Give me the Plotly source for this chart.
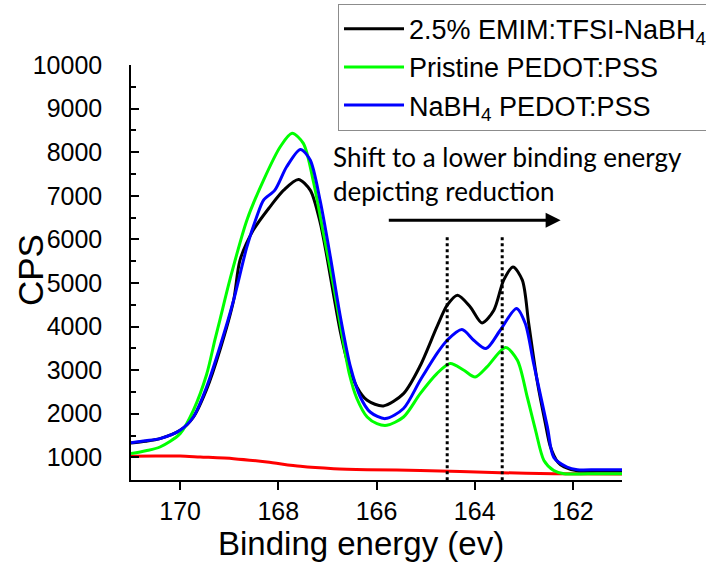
import plotly.graph_objects as go

# ---------------- data ----------------
be_black = [171.00, 170.70, 170.41, 170.00, 169.73, 169.46, 169.19, 168.91, 168.78, 168.51,
            168.17, 167.89, 167.59, 167.35, 167.15, 167.01, 166.87, 166.74, 166.60, 166.40,
            166.19, 165.86, 165.45, 165.11, 164.77, 164.56, 164.35, 164.09, 163.85, 163.61,
            163.41, 163.22, 163.03, 162.90, 162.73, 162.56, 162.46, 162.30, 162.18, 161.91,
            161.50, 161.00]
cps_black = [1330, 1370, 1430, 1620, 1925, 2560, 3456, 4604, 5523, 6212,
             6747, 7130, 7375, 7130, 6400, 5600, 4700, 3900, 3227, 2614,
             2308, 2180, 2462, 3100, 3991, 4490, 4719, 4451, 4084, 4375,
             5064, 5369, 5064, 4069, 2767, 1773, 1250, 880, 778, 690,
             685, 685]

be_green = [171.00, 170.70, 170.41, 170.00, 169.73, 169.46, 169.29, 169.19, 168.98, 168.64,
            168.30, 167.96, 167.72, 167.49, 167.28, 167.08, 166.87, 166.70, 166.55, 166.40,
            166.19, 165.99, 165.79, 165.45, 165.11, 164.77, 164.50, 164.22, 163.99, 163.75,
            163.37, 163.13, 162.93, 162.76, 162.59, 162.39, 162.18, 161.50, 161.00]
cps_green = [1085, 1150, 1237, 1544, 2079, 2900, 3700, 4150, 5100, 6441,
             7360, 8124, 8432, 8202, 7300, 6136, 4910, 3800, 2900, 2350,
             1925, 1773, 1735, 1925, 2462, 2921, 3151, 2997, 2843, 3073,
             3518, 3227, 2384, 1620, 930, 700, 625, 625, 625]

be_blue = [171.00, 170.70, 170.41, 170.00, 169.73, 169.46, 169.19, 168.91, 168.64, 168.44,
           168.30, 168.07, 167.83, 167.55, 167.35, 167.15, 166.94, 166.74, 166.53, 166.33,
           166.13, 165.82, 165.45, 165.11, 164.77, 164.56, 164.26, 164.02, 163.77, 163.48,
           163.15, 162.97, 162.80, 162.52, 162.39, 162.12, 161.91, 161.50, 161.00]
cps_blue = [1337, 1380, 1429, 1620, 1925, 2614, 3532, 4604, 5828, 6517,
            6900, 7130, 7665, 8064, 7819, 6900, 5600, 4250, 3073, 2384,
            2040, 1888, 2120, 2768, 3380, 3686, 3931, 3686, 3495, 3916,
            4414, 4069, 3151, 1698, 1000, 778, 717, 717, 717]

be_bg = [171.00, 170.50, 170.00, 169.59, 168.91, 168.23, 167.55, 166.87, 166.19, 165.11,
         163.48, 162.39, 161.00]
cps_bg = [1023, 1030, 1030, 1008, 970, 893, 793, 740, 717, 700,
          648, 625, 620]

names = ["2.5% EMIM:TFSI-NaBH<sub>4</sub>", "Pristine PEDOT:PSS", "NaBH<sub>4</sub> PEDOT:PSS"]
colors = ["#000000", "#00ff00", "#0000ff"]

marker_lines_be = [164.56, 163.44]
marker_line_top = 6050

arrow_start_be = 165.78
arrow_end_be = 162.25
arrow_cps = 6441

x_ticks = [170, 168, 166, 164, 162]
x_ticktext = ["170", "168", "166", "164", "162"]
y_ticks = [1000, 2000, 3000, 4000, 5000, 6000, 7000, 8000, 9000, 10000]
y_ticktext = ["1000", "2000", "3000", "4000", "5000", "6000", "7000", "8000", "9000", "10000"]
x_range = [171, 161]
y_range = [480, 10000]

FONT = "Liberation Sans, Arial, sans-serif"

fig = go.Figure()

# background line (red)
fig.add_trace(go.Scatter(x=be_bg, y=cps_bg, mode="lines", showlegend=False,
                         line=dict(color="#ff0000", width=3, shape="spline", smoothing=0.8),
                         hoverinfo="skip"))

series = [(be_black, cps_black), (be_green, cps_green), (be_blue, cps_blue)]
for (xs, ys), nm, col in zip(series, names, colors):
    fig.add_trace(go.Scatter(x=xs, y=ys, mode="lines", name=nm,
                             line=dict(color=col, width=3, shape="spline", smoothing=0.8)))

for xb in marker_lines_be:
    fig.add_trace(go.Scatter(x=[xb, xb], y=[marker_line_top, y_range[0]], mode="lines",
                             showlegend=False, hoverinfo="skip",
                             line=dict(color="#000000", width=3, dash="dot")))

fig.add_annotation(x=arrow_end_be, y=arrow_cps, ax=arrow_start_be, ay=arrow_cps,
                   xref="x", yref="y", axref="x", ayref="y", text="",
                   showarrow=True, arrowhead=2, arrowsize=1.0, arrowwidth=3, arrowcolor="#000000")

fig.add_annotation(x=166.92, y=8300, xref="x", yref="y", xanchor="left", yanchor="top",
                   text="Shift to a lower binding energy<br>depicting reduction", align="left",
                   showarrow=False, font=dict(family="Lato, Open Sans, sans-serif", size=26, color="#000000"))

# axis titles
fig.add_annotation(x=0.468, y=-0.154, xref="paper", yref="paper", xanchor="center", yanchor="middle",
                   text="Binding energy (ev)", showarrow=False,
                   font=dict(family=FONT, size=33, color="#000000"))
fig.add_annotation(x=-0.2057, y=0.506, xref="paper", yref="paper", xanchor="center", yanchor="middle",
                   text="CPS", textangle=-90, showarrow=False,
                   font=dict(family=FONT, size=35, color="#000000"))

fig.update_xaxes(range=x_range, tickmode="array", tickvals=x_ticks, ticktext=x_ticktext,
                 ticks="outside", ticklen=8, tickwidth=1.5, tickcolor="#000000",
                 showline=True, linecolor="#000000", linewidth=1.5, mirror=False,
                 showgrid=False, zeroline=False,
                 tickfont=dict(family=FONT, size=25, color="#000000"))
fig.update_yaxes(range=y_range, tickmode="array", tickvals=y_ticks, ticktext=y_ticktext,
                 ticks="inside", ticklen=8, tickwidth=1.5, tickcolor="#000000",
                 minor=dict(dtick=500, tick0=0, ticks="inside", ticklen=5, tickwidth=1.5, tickcolor="#000000"),
                 showline=True, linecolor="#000000", linewidth=1.5, mirror=False,
                 showgrid=False, zeroline=False, ticklabelstandoff=22,
                 tickfont=dict(family=FONT, size=25, color="#000000"))

fig.update_layout(
    width=706, height=562,
    margin=dict(l=131, r=84, t=65, b=82, autoexpand=False),
    paper_bgcolor="#ffffff", plot_bgcolor="#ffffff",
    font=dict(family=FONT, size=25, color="#000000"),
    showlegend=True,
    legend=dict(x=0.4216, y=1.1475, xanchor="left", yanchor="top",
                bgcolor="rgba(255,255,255,0)", bordercolor="#8c8c8c", borderwidth=1,
                font=dict(family=FONT, size=27, color="#000000"),
                itemwidth=60, tracegroupgap=0),
)

fig.write_html("out.html")
